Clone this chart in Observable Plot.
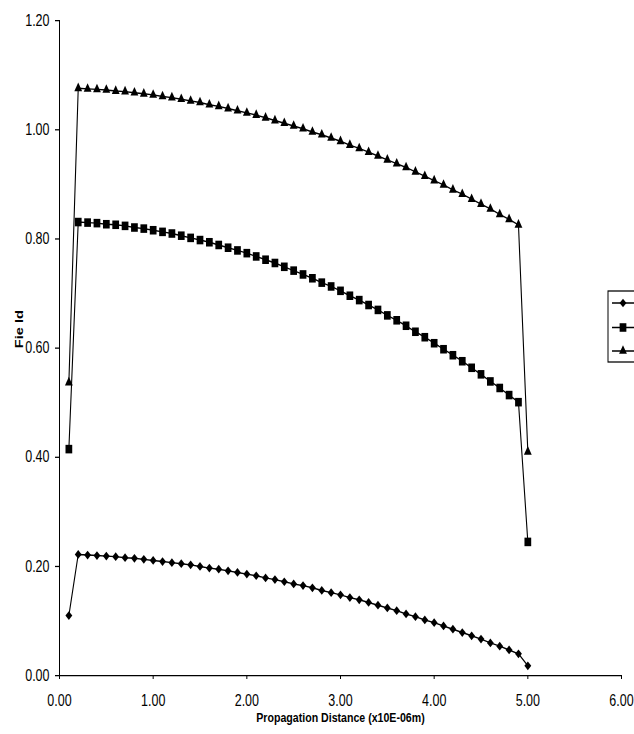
<!DOCTYPE html>
<html><head><meta charset="utf-8">
<script src="https://cdn.jsdelivr.net/npm/d3@7"></script>
<script src="https://cdn.jsdelivr.net/npm/@observablehq/plot@0.6"></script>
<style>
html,body{margin:0;padding:0;background:#fff;}
#chart svg{display:block;}
</style>
</head><body><div id="chart"></div>
<script>
const distance = [0.1,0.2,0.3,0.4,0.5,0.6,0.7,0.8,0.9,1.0,1.1,1.2,1.3,1.4,1.5,1.6,1.7,1.8,1.9,2.0,2.1,2.2,2.3,2.4,2.5,2.6,2.7,2.8,2.9,3.0,3.1,3.2,3.3,3.4,3.5,3.6,3.7,3.8,3.9,4.0,4.1,4.2,4.3,4.4,4.5,4.6,4.7,4.8,4.9,5.0];
const seriesNames = ["Series1","Series2","Series3"];
const diamondValues = [0.110,0.222,0.221,0.220,0.219,0.218,0.216,0.215,0.213,0.211,0.209,0.207,0.205,0.203,0.200,0.197,0.195,0.192,0.189,0.186,0.183,0.179,0.176,0.172,0.168,0.165,0.161,0.156,0.152,0.148,0.143,0.139,0.134,0.129,0.124,0.119,0.113,0.108,0.102,0.097,0.091,0.085,0.079,0.073,0.067,0.060,0.054,0.047,0.040,0.018];
const squareValues = [0.415,0.831,0.830,0.829,0.827,0.826,0.824,0.821,0.819,0.816,0.813,0.810,0.806,0.802,0.798,0.794,0.789,0.784,0.779,0.774,0.768,0.762,0.756,0.749,0.742,0.735,0.728,0.720,0.713,0.705,0.696,0.688,0.679,0.670,0.660,0.651,0.641,0.630,0.620,0.609,0.598,0.587,0.576,0.564,0.552,0.539,0.527,0.514,0.501,0.245];
const triangleValues = [0.537,1.076,1.075,1.074,1.073,1.071,1.070,1.068,1.066,1.064,1.061,1.059,1.056,1.053,1.050,1.046,1.043,1.039,1.035,1.031,1.027,1.022,1.017,1.012,1.007,1.002,0.996,0.991,0.985,0.979,0.972,0.966,0.959,0.952,0.945,0.938,0.931,0.923,0.915,0.907,0.899,0.890,0.882,0.873,0.864,0.855,0.845,0.836,0.826,0.410];
const xTicks = [0,1,2,3,4,5,6];
const yTicks = [0,0.2,0.4,0.6,0.8,1.0,1.2];
const xTitle = "Propagation Distance (x10E-06m)";
const yTitle = "Fie ld";

// vertical stretch of the original picture
const K = 1.27;
const W = 634, H = 734 / K;

const rows = [];
[diamondValues, squareValues, triangleValues].forEach((vals, i) => {
  vals.forEach((v, j) => rows.push({series: seriesNames[i], distance: distance[j], field: v}));
});
const symbols = ["diamond2", "square", "triangle"];
const radii = [3.1, 3.8, 2.9];

const fmt = d3.format(".2f");
const fontFam = '"Liberation Sans", Arial, sans-serif';

const plot = Plot.plot({
  width: W,
  height: H,
  marginLeft: 59,
  marginRight: 13,
  marginTop: 20 / K,
  marginBottom: H - 675 / K,
  style: {fontFamily: fontFam, fontSize: "12.5px", color: "black", background: "white", overflow: "visible"},
  x: {domain: [0, 6]},
  y: {domain: [0, 1.2]},
  marks: [
    Plot.axisX({ticks: xTicks, tickFormat: fmt, tickSize: 4 / K, tickPadding: 12, label: null}),
    Plot.axisY({ticks: yTicks, tickFormat: fmt, tickSize: 4, tickPadding: 6, label: null}),
    Plot.ruleY([0], {stroke: "black", strokeWidth: 1}),
    Plot.ruleX([0], {stroke: "black", strokeWidth: 1}),
    Plot.line(rows, {x: "distance", y: "field", z: "series", stroke: "black", strokeWidth: 1.1}),
    ...seriesNames.map((s, i) => Plot.dot(rows.filter(d => d.series === s), {
      x: "distance", y: "field", symbol: () => symbols[i], r: radii[i], fill: "black", stroke: "none"
    })),
    Plot.text([xTitle], {frameAnchor: "bottom", dy: 721 / K - 675 / K, fontWeight: "bold", fontSize: 10.6}),
    Plot.text([yTitle], {frameAnchor: "left", rotate: -90, dx: -40, fontWeight: "bold", fontSize: 11.5})
  ]
});

// legend (clipped by the right edge as in the original)
const svg = d3.select(plot);
const lg = svg.append("g");
const lx = 608, ly = 291 / K;
lg.append("rect").attr("x", lx).attr("y", ly).attr("width", 60).attr("height", 71 / K)
  .attr("fill", "white").attr("stroke", "black").attr("stroke-width", 1);
const d3sym = [d3.symbolDiamond2, d3.symbolSquare, d3.symbolTriangle];
[303, 327.5, 351].forEach((yy, i) => {
  const y = yy / K;
  lg.append("line").attr("x1", lx + 4).attr("x2", lx + 40).attr("y1", y).attr("y2", y)
    .attr("stroke", "black").attr("stroke-width", 1);
  lg.append("path").attr("d", d3.symbol().type(d3sym[i]).size(Math.PI * radii[i] * radii[i])())
    .attr("transform", `translate(${lx + 15},${y})`).attr("fill", "black");
});

plot.setAttribute("height", 734);
plot.setAttribute("preserveAspectRatio", "none");
plot.style.height = "734px";
plot.style.width = "634px";
plot.style.maxWidth = "none";
document.getElementById("chart").appendChild(plot);
</script>
</body></html>
